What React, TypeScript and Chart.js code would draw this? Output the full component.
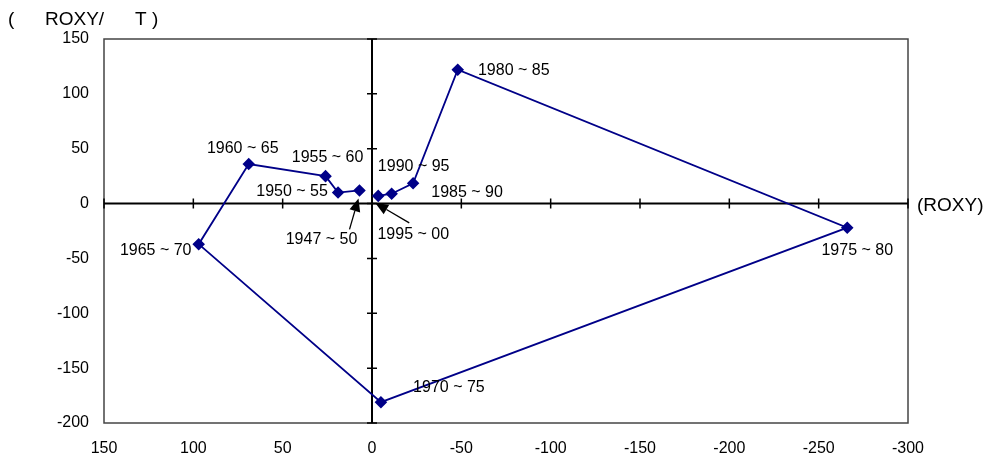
import React, { useEffect, useRef } from "react";
import { Chart, registerables } from "chart.js";

Chart.register(...registerables);

const periods = [
  "1947 ~ 50", "1950 ~ 55", "1955 ~ 60", "1960 ~ 65", "1965 ~ 70", "1970 ~ 75",
  "1975 ~ 80", "1980 ~ 85", "1985 ~ 90", "1990 ~ 95", "1995 ~ 00",
];
const xValues = [7, 19, 26, 69, 97, -5, -266, -48, -23, -11, -3.5];
const yValues = [12, 10, 25, 36, -37, -181, -22, 122, 18.5, 9, 7];
const xTicks = [150, 100, 50, 0, -50, -100, -150, -200, -250, -300];
const yTicks = [150, 100, 50, 0, -50, -100, -150, -200];
const yTitleParts = ["(", "ROXY/", "T )"];
const xTitle = "(ROXY)";

// label placement (pixel offsets of label centre from its point)
const labelOffsets: [number, number][] = [
  [-38, 49], [-46, -1], [2, -19], [-6, -15], [-43, 6], [68, -15],
  [10, 23], [56, 1], [54, 9], [22, -27], [35, 39],
];
// arrows: index, tip offset, tail offset
const arrows: { i: number; tip: [number, number]; tail: [number, number] }[] = [
  { i: 0, tip: [-1, 8], tail: [-10, 39] },
  { i: 10, tip: [-3, 7], tail: [31, 27] },
];
const yTitleX = [8, 45, 135];

const FONT = "'Liberation Sans', Arial, sans-serif";

const decorPlugin = {
  id: "decor",
  beforeDatasetsDraw(chart: any) {
    const { ctx, chartArea: a, scales } = chart;
    const xs = scales.x, ys = scales.y;
    ctx.save();
    // frame
    ctx.strokeStyle = "#444";
    ctx.lineWidth = 1.5;
    ctx.strokeRect(a.left, a.top, a.right - a.left, a.bottom - a.top);
    // center axes
    const x0 = xs.getPixelForValue(0);
    const y0 = ys.getPixelForValue(0);
    ctx.strokeStyle = "#000";
    ctx.lineWidth = 2;
    ctx.beginPath();
    ctx.moveTo(a.left, y0); ctx.lineTo(a.right, y0);
    ctx.moveTo(x0, a.top); ctx.lineTo(x0, a.bottom);
    ctx.stroke();
    ctx.lineWidth = 1.5;
    ctx.beginPath();
    xTicks.forEach((v) => {
      const px = xs.getPixelForValue(v);
      ctx.moveTo(px, y0 - 5); ctx.lineTo(px, y0 + 5);
    });
    yTicks.forEach((v) => {
      const py = ys.getPixelForValue(v);
      ctx.moveTo(x0 - 5, py); ctx.lineTo(x0 + 5, py);
    });
    ctx.stroke();
    ctx.restore();
  },
  afterDatasetsDraw(chart: any) {
    const { ctx, scales } = chart;
    const xs = scales.x, ys = scales.y;
    ctx.save();
    ctx.fillStyle = "#000";
    ctx.font = `16px ${FONT}`;
    ctx.textAlign = "center";
    ctx.textBaseline = "middle";
    periods.forEach((p, i) => {
      const px = xs.getPixelForValue(xValues[i]);
      const py = ys.getPixelForValue(yValues[i]);
      ctx.fillText(p, px + labelOffsets[i][0], py + labelOffsets[i][1]);
    });
    // arrows
    arrows.forEach(({ i, tip, tail }) => {
      const px = xs.getPixelForValue(xValues[i]);
      const py = ys.getPixelForValue(yValues[i]);
      const tx = px + tip[0], ty = py + tip[1];
      const sx = px + tail[0], sy = py + tail[1];
      const ang = Math.atan2(ty - sy, tx - sx);
      const hl = 13, hw = 5.5;
      const bx = tx - hl * Math.cos(ang), by = ty - hl * Math.sin(ang);
      ctx.strokeStyle = "#000";
      ctx.lineWidth = 1.3;
      ctx.beginPath();
      ctx.moveTo(sx, sy); ctx.lineTo(bx, by);
      ctx.stroke();
      ctx.beginPath();
      ctx.moveTo(tx, ty);
      ctx.lineTo(bx + hw * Math.sin(ang), by - hw * Math.cos(ang));
      ctx.lineTo(bx - hw * Math.sin(ang), by + hw * Math.cos(ang));
      ctx.closePath();
      ctx.fill();
    });
    // titles
    ctx.font = `19px ${FONT}`;
    ctx.textAlign = "left";
    yTitleParts.forEach((t, k) => ctx.fillText(t, yTitleX[k], 20));
    const y0 = ys.getPixelForValue(0);
    ctx.fillText(xTitle, 917, y0 + 2);
    ctx.restore();
  },
};

export default function App() {
  const ref = useRef<HTMLCanvasElement>(null);
  useEffect(() => {
    document.body.style.margin = "0";
    const chart = new Chart(ref.current!, {
      type: "scatter",
      data: {
        datasets: [
          {
            data: xValues.map((x, i) => ({ x, y: yValues[i] })),
            showLine: true,
            borderColor: "#000088",
            backgroundColor: "#000088",
            borderWidth: 1.8,
            pointStyle: "rectRot",
            pointRadius: 5,
            pointHoverRadius: 5,
            tension: 0,
          },
        ],
      },
      options: {
        responsive: false,
        animation: false,
        layout: { padding: { left: 0, right: 84, top: 39, bottom: 0 } },
        plugins: { legend: { display: false }, tooltip: { enabled: false } },
        scales: {
          x: {
            type: "linear",
            min: -300,
            max: 150,
            reverse: true,
            afterBuildTicks: (s: any) => { s.ticks = xTicks.map((v) => ({ value: v })); },
            afterFit: (s: any) => { s.height = 38; },
            grid: { display: false, drawTicks: false },
            border: { display: false },
            ticks: {
              padding: 16,
              color: "#000",
              font: { family: FONT, size: 16 },
              maxRotation: 0,
              autoSkip: false,
            },
          },
          y: {
            type: "linear",
            min: -200,
            max: 150,
            afterBuildTicks: (s: any) => { s.ticks = yTicks.map((v) => ({ value: v })); },
            afterFit: (s: any) => { s.width = 104; },
            grid: { display: false, drawTicks: false },
            border: { display: false },
            ticks: {
              padding: 15,
              color: "#000",
              font: { family: FONT, size: 16 },
              autoSkip: false,
            },
          },
        },
      },
      plugins: [decorPlugin],
    });
    return () => chart.destroy();
  }, []);
  return <canvas ref={ref} width={992} height={461} style={{ display: "block" }} />;
}
